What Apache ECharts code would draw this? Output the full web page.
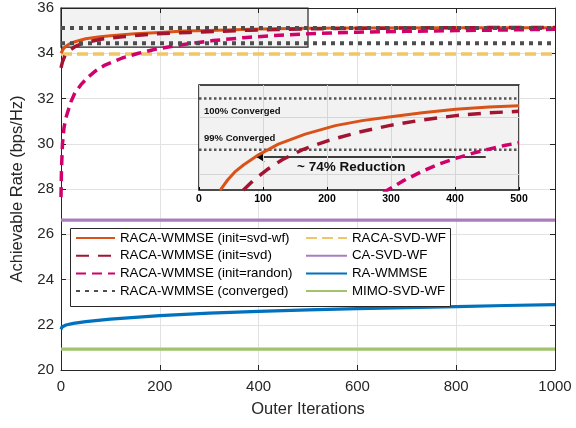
<!DOCTYPE html>
<html><head><meta charset="utf-8">
<script src="https://cdn.jsdelivr.net/npm/echarts@6/dist/echarts.min.js"></script>
<style>html,body{margin:0;padding:0;background:#fff}#c{width:576px;height:428px}</style>
</head><body><div id="c"></div>
<script>
// ---- main chart data ----
const svdwfX = [0,5,10,20,30,50,75,100,150,200,250,300,400,500,600,800,1000];
const svdwfY = [34.0,34.2,34.31,34.45,34.52,34.64,34.72,34.77,34.86,34.92,34.98,35.01,35.07,35.10,35.12,35.13,35.13];
const svdX = [0,3,8,15,28,40,55,80,124,191,260,320,380,440,500,600,800,1000];
const svdY = [33.35,33.62,33.9,34.1,34.29,34.4,34.5,34.62,34.73,34.86,34.92,34.97,35.02,35.05,35.08,35.1,35.13,35.14];
const randX = [0,1,3,6,10,15,20,28,40,55,70,89,124,157,191,245,308,376,443,518,600,700,800,900,1000];
const randY = [27.64,28.9,30.0,30.7,31.15,31.5,31.85,32.24,32.6,32.95,33.22,33.48,33.79,34.0,34.18,34.38,34.56,34.7,34.8,34.88,34.93,34.97,35.0,35.03,35.06];
const raX = [0,2,5,10,25,50,100,200,300,400,500,600,700,800,900,1000];
const raY = [21.8,21.9,21.95,21.99,22.06,22.14,22.25,22.4,22.51,22.59,22.66,22.71,22.76,22.8,22.85,22.89];
const convergedLevel = 35.12;
const convergedLow = 34.44;
const racaSvdWf = 33.97;
const caSvdWf = 26.62;
const mimoSvdWf = 20.92;
const fullRange = [0, 1000];
const zoomBox = [[0, 34.27], [500, 36]];
// ---- inset data ----
const inSvdwfX = [33,45,56,70,93,124,166,213,255,297,349,401,453,500];
const inSvdwfY = [34.486,34.56,34.615,34.665,34.735,34.81,34.88,34.94,34.975,35.0,35.03,35.054,35.07,35.08];
const inSvdX = [69,86,106,130,161,202,250,297,349,401,453,500];
const inSvdY = [34.486,34.56,34.63,34.70,34.77,34.835,34.895,34.94,34.98,35.01,35.03,35.04];
const inRandX = [288,318,349,375,401,427,453,477,500];
const inRandY = [34.47,34.55,34.62,34.67,34.71,34.745,34.775,34.80,34.82];
const in100 = 35.13;
const in99 = 34.77;
const insetRange = [0, 500];
const insetGrid = [34.6, 35.0];
const arrowFrom = [448, 34.72];
const arrowTo = [90, 34.72];

const zip = (xs, ys) => xs.map((x, i) => [x, ys[i]]);
const flat = (v, r) => r.map(x => [x, v]);

const C = {orange:'#D95319', maroon:'#A2142F', magenta:'#D1006A', gray:'#4D4D4D',
  yellow:'#F1C56A', purple:'#A97CC0', blue:'#0072BD', green:'#A1C36C', axis:'#262626'};

const ln = (name, data, color, width, type, extra) => Object.assign({
  name, type:'line', data, xAxisIndex:0, yAxisIndex:0, symbol:'none', showSymbol:false,
  lineStyle:{color, width, type: type || 'solid', cap:'butt', join:'round'}, itemStyle:{color}, z:2,
  animation:false, silent:true
}, extra || {});
const ins = (name, data, color, width, type, extra) => ln(name, data, color, width, type, Object.assign({xAxisIndex:2, yAxisIndex:2, z:7}, extra || {}));

const chart = echarts.init(document.getElementById('c'), null, {renderer:'canvas'});
const font = "'Liberation Sans', Arial, Helvetica, sans-serif";
const mainAxisCommon = {
  type:'value', gridIndex:0,
  axisLine:{show:true, onZero:false, lineStyle:{color:C.axis, width:1}},
  axisTick:{show:true, inside:true, length:5, lineStyle:{color:C.axis}},
};
const legendCommon = {orient:'vertical', itemHeight:14, itemGap:3.7, padding:0, z:9, selectedMode:false,
  textStyle:{fontSize:13.3, lineHeight:14, color:'#000', fontFamily:font}, itemStyle:{opacity:0}};
chart.setOption({
  animation:false,
  textStyle:{fontFamily:font},
  grid:[
    {left:61, top:8, right:21, bottom:58},
    {left:199, top:85, width:320, height:105, show:true, backgroundColor:'#f2f2f2', borderColor:'#111', borderWidth:1.5, z:5}
  ],
  xAxis:[
    Object.assign({}, mainAxisCommon, {min:0, max:1000, interval:200,
      axisLabel:{fontSize:15, color:C.axis, margin:9, formatter:v => String(v)},
      splitLine:{show:true, lineStyle:{color:'#e2e2e2'}},
      name:'Outer Iterations', nameLocation:'middle', nameGap:31,
      nameTextStyle:{fontSize:16.5, color:C.axis}}),
    Object.assign({}, mainAxisCommon, {position:'top', min:0, max:1000, interval:200,
      axisLabel:{show:false}, splitLine:{show:false}}),
    {type:'value', gridIndex:1, min:insetRange[0], max:insetRange[1], interval:100, z:6,
      axisLine:{show:false, onZero:false}, axisTick:{show:true, inside:true, length:3, lineStyle:{color:'#000'}},
      axisLabel:{fontSize:10.5, fontWeight:'bold', color:'#000', margin:4, formatter:v => String(v)},
      splitLine:{show:true, lineStyle:{color:'#d6d6d6'}}}
  ],
  yAxis:[
    Object.assign({}, mainAxisCommon, {min:20, max:36, interval:2,
      axisLabel:{fontSize:15, color:C.axis, margin:7},
      splitLine:{show:true, lineStyle:{color:'#e2e2e2'}},
      name:'Achievable Rate (bps/Hz)', nameLocation:'middle', nameGap:34,
      nameTextStyle:{fontSize:16.5, color:C.axis}}),
    Object.assign({}, mainAxisCommon, {position:'right', min:20, max:36, interval:2,
      axisLabel:{show:false}, splitLine:{show:false}}),
    {type:'value', gridIndex:1, min:34.488, max:35.225, z:6,
      axisLine:{show:false}, axisTick:{show:false}, axisLabel:{show:false}, splitLine:{show:false}}
  ],
  legend:[
    Object.assign({left:75, top:231, itemWidth:39,
      data:['RACA-WMMSE (init=svd-wf)','RACA-WMMSE (init=svd)','RACA-WMMSE (init=randon)','RACA-WMMSE (converged)']}, legendCommon),
    Object.assign({left:305, top:231, itemWidth:41,
      data:['RACA-SVD-WF','CA-SVD-WF','RA-WMMSE','MIMO-SVD-WF']}, legendCommon)
  ],
  graphic:[
    {type:'rect', left:70, top:228, shape:{width:380, height:78}, z:8,
      style:{fill:'#fff', stroke:C.axis, lineWidth:1}},
    {type:'text', left:204, top:106, z:20, style:{text:'100% Converged', font:"bold 9.5px "+font, fill:'#111'}},
    {type:'text', left:204, top:133, z:20, style:{text:'99% Converged', font:"bold 9.5px "+font, fill:'#111'}},
    {type:'text', left:297, top:160, z:20, style:{text:'~ 74% Reduction', font:"bold 13.5px "+font, fill:'#111'}}
  ],
  series:[
    {type:'line', data:[], xAxisIndex:0, yAxisIndex:0, z:1, silent:true,
      markArea:{silent:true, itemStyle:{color:'rgba(0,0,0,0.05)', borderColor:C.axis, borderWidth:1.2},
        data:[[{xAxis:zoomBox[0][0], yAxis:zoomBox[0][1]},{xAxis:zoomBox[1][0], yAxis:zoomBox[1][1]}]]}},
    ln('MIMO-SVD-WF', flat(mimoSvdWf, fullRange), C.green, 3.2),
    ln('RA-WMMSE', zip(raX, raY), C.blue, 3.2),
    ln('CA-SVD-WF', flat(caSvdWf, fullRange), C.purple, 3.2),
    ln('RACA-SVD-WF', flat(racaSvdWf, fullRange), C.yellow, 3.5, [11,5]),
    ln('RACA-WMMSE (init=svd-wf)', zip(svdwfX, svdwfY), C.orange, 3),
    ln('RACA-WMMSE (init=svd)', zip(svdX, svdY), C.maroon, 3.5, [13,9]),
    ln('RACA-WMMSE (init=randon)', zip(randX, randY), C.magenta, 3.5, [10,6]),
    ln('RACA-WMMSE (converged)', flat(convergedLevel, fullRange), C.gray, 4, [4,5]),
    ln('RACA-WMMSE (converged)', flat(convergedLow, fullRange), C.gray, 4, [4,5]),
    // inset
    {type:'line', data:[], xAxisIndex:2, yAxisIndex:2, z:6, silent:true,
      markLine:{silent:true, symbol:'none', label:{show:false}, lineStyle:{color:'#d6d6d6', type:'solid', width:1},
        data: insetGrid.map(v => ({yAxis:v}))}},
    ins('inset-100', flat(in100, insetRange), '#555', 2.5, [2.5,2.5]),
    ins('inset-99', flat(in99, insetRange), '#555', 2.5, [2.5,2.5]),
    ins('inset-svdwf', zip(inSvdwfX, inSvdwfY), C.orange, 3),
    ins('inset-svd', zip(inSvdX, inSvdY), C.maroon, 3.5, [13,9]),
    ins('inset-rand', zip(inRandX, inRandY), C.magenta, 3.5, [10,6], {
      markLine:{silent:true, symbol:['none','arrow'], symbolSize:[8,8], label:{show:false},
        lineStyle:{color:'#000', type:'solid', width:1.5},
        data:[[{coord:arrowFrom},{coord:arrowTo}]]}})
  ]
});
</script></body></html>
